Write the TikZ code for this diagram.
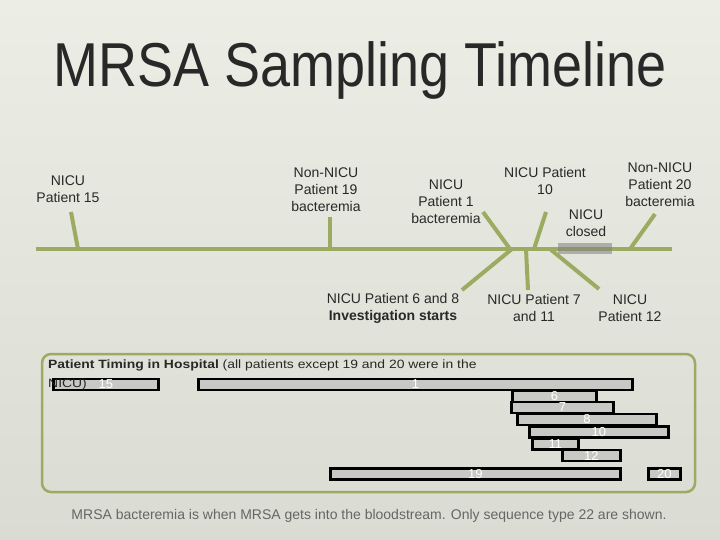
\documentclass[tikz,border=0pt]{standalone}
\usepackage{fontspec}
\setmainfont{Liberation Sans}
\usepackage{tikz}
\usetikzlibrary{positioning,calc}

\definecolor{olive}{RGB}{155,172,98}
\definecolor{bgtop}{RGB}{236,237,229}
\definecolor{bgbot}{RGB}{218,219,210}
\definecolor{barfill}{RGB}{200,201,196}
\definecolor{textgray}{RGB}{40,40,40}

\begin{document}
\begin{tikzpicture}[
    x=1pt, y=-1pt,
    font=\fontsize{14}{17}\selectfont,
    eventlabel/.style={align=center, text=textgray, inner sep=0pt},
    timeline/.style={line width=4pt, draw=olive},
    tick/.style={line width=4pt, draw=olive},
    bar/.style={draw=black, line width=2.8pt, fill=barfill, minimum height=11pt, inner sep=0pt, anchor=west, text=white, font=\fontsize{13}{13}\selectfont},
    frame/.style={draw=olive, line width=2.5pt, rounded corners=9pt}
]
    % Background and page size
    \shade[top color=bgtop, bottom color=bgbot] (0,0) rectangle (720,540);
    \useasboundingbox (0,0) rectangle (720,540);

    % Title
    \node[text=textgray] (title) at (360,70) {\scalebox{0.87}[1]{\fontsize{62}{62}\selectfont MRSA Sampling Timeline}};

    % Timeline
    \coordinate (tlstart) at (36,249);
    \coordinate (tlend) at (672,249);
    \draw[timeline] (tlstart) -- (tlend);
    \fill[gray, opacity=0.55] (558,243) rectangle (612,254);

    % Event labels
    \node[eventlabel] (lab15) at (68,189) {NICU\\Patient 15};
    \node[eventlabel] (lab19) at (326,190) {Non-NICU\\Patient 19\\bacteremia};
    \node[eventlabel] (lab1) at (446,202) {NICU\\Patient 1\\bacteremia};
    \node[eventlabel] (lab10) at (545,181) {NICU Patient\\10};
    \node[eventlabel] (labclosed) at (586,223) {NICU\\closed};
    \node[eventlabel] (lab20) at (660,185) {Non-NICU\\Patient 20\\bacteremia};
    \node[eventlabel] (lab68) at (393,308) {NICU Patient 6 and 8\\\textbf{Investigation starts}};
    \node[eventlabel] (lab711) at (534,308) {NICU Patient 7\\and 11};
    \node[eventlabel] (lab12) at (630,308) {NICU\\Patient 12};

    % Ticks from the labels to the timeline
    \coordinate (t15a) at (71,212);   \coordinate (t15b) at (78,249);
    \coordinate (t19a) at (330,217);  \coordinate (t19b) at (330,249);
    \coordinate (t1a) at (483,212);   \coordinate (t1b) at (510,249);
    \coordinate (t10a) at (546,212);  \coordinate (t10b) at (534,249);
    \coordinate (t20a) at (655,214);  \coordinate (t20b) at (630,249);
    \coordinate (t68a) at (512,249);  \coordinate (t68b) at (462,290);
    \coordinate (t711a) at (526,249); \coordinate (t711b) at (528,290);
    \coordinate (t12a) at (550,249);  \coordinate (t12b) at (599,289);
    \foreach \t in {15,19,1,10,20,68,711,12}
        \draw[tick] (t\t a) -- (t\t b);

    % Patient timing box
    \draw[frame] (42,354) rectangle (695,492);
    \foreach \nm/\xa/\xb/\yc in {15/52/157/384.5, 1/197/631/384.5, 6/511/595/396.5,
                                 7/510/612/407.5, 8/516/655/419.5, 10/528/667/432,
                                 11/531/577/444, 12/561/619/455.5, 19/329/619/474, 20/647/679/474}
        \node[bar, minimum width={(\xb-\xa)*1pt}] (bar\nm) at (\xa,\yc) {\nm};
    \node[anchor=north west, align=left, inner sep=0pt, text=textgray] (timinghead) at (48,360)
        {\scalebox{1.16}[1]{\fontsize{12}{17}\selectfont\textbf{Patient Timing in Hospital} (all patients except 19 and 20 were in the}\\[2pt]
         \scalebox{1.16}[1]{\fontsize{12}{17}\selectfont NICU)}};

    % Footnote
    \node[text=black!60] (footnote) at (369,516) {\fontsize{14}{14}\selectfont MRSA bacteremia is when MRSA gets into the bloodstream. Only sequence type 22 are shown.};
\end{tikzpicture}
\end{document}
